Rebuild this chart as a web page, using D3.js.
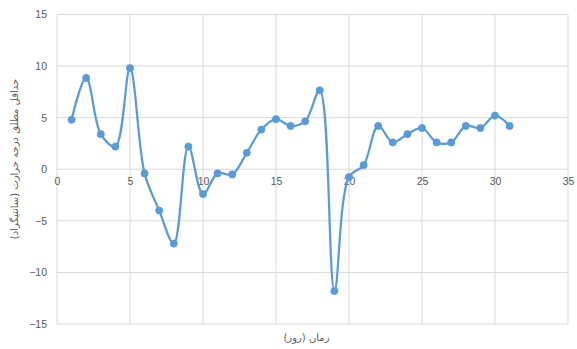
<!DOCTYPE html>
<html>
<head>
<meta charset="utf-8">
<script src="https://cdn.jsdelivr.net/npm/d3@7"></script>
<style>
  html, body { margin: 0; padding: 0; background: #fff; }
  svg { display: block; }
</style>
</head>
<body>
<svg id="chart" width="577" height="349"></svg>
<script>
// Daily absolute minimum temperature (°C)
const days = [1,2,3,4,5,6,7,8,9,10,11,12,13,14,15,16,17,18,19,20,21,22,23,24,25,26,27,28,29,30,31];
const minTemps = [4.8,8.85,3.4,2.2,9.8,-0.4,-4.0,-7.2,2.2,-2.4,-0.4,-0.5,1.6,3.85,4.85,4.2,4.65,7.65,-11.8,-0.75,0.4,4.2,2.6,3.4,4.0,2.6,2.6,4.2,4.0,5.2,4.2];
const xTicks = [0,5,10,15,20,25,30,35];
const yTicks = [-15,-10,-5,0,5,10,15];
const xTitle = "زمان (روز)";
const yTitle = "حداقل مطلق درجه حرارت (سانتیگراد)";

const svg = d3.select("#chart");
const margin = { left: 57, right: 9, top: 14.5, bottom: 25 };
const W = 577, H = 349;

const x = d3.scaleLinear().domain([0, 35]).range([margin.left, W - margin.right]);
const y = d3.scaleLinear().domain([-15, 15]).range([H - margin.bottom, margin.top]);

const gridColor = "#d9d9d9";
const textColor = "#595959";
const font = "'Liberation Sans', Arial, sans-serif";

// gridlines
svg.append("g")
  .selectAll("line.h")
  .data(yTicks)
  .join("line")
  .attr("x1", x(0)).attr("x2", x(35))
  .attr("y1", d => y(d)).attr("y2", d => y(d))
  .attr("stroke", gridColor).attr("stroke-width", 1);

svg.append("g")
  .selectAll("line.v")
  .data(xTicks)
  .join("line")
  .attr("x1", d => x(d)).attr("x2", d => x(d))
  .attr("y1", y(15)).attr("y2", y(-15))
  .attr("stroke", gridColor).attr("stroke-width", 1);

// y axis labels
const yAxis = d3.axisLeft(y).tickValues(yTicks).tickSize(0).tickPadding(10);
svg.append("g")
  .attr("transform", `translate(${x(0)},0)`)
  .call(yAxis)
  .call(g => g.select(".domain").remove())
  .call(g => g.selectAll("text")
    .attr("fill", textColor)
    .style("font-family", font)
    .style("font-size", "10.5px"));

// x axis labels sit on the zero line
const xAxis = d3.axisBottom(x).tickValues(xTicks).tickSize(0).tickPadding(8);
svg.append("g")
  .attr("transform", `translate(0,${y(0)})`)
  .call(xAxis)
  .call(g => g.select(".domain").remove())
  .call(g => g.selectAll("text")
    .attr("fill", textColor)
    .style("font-family", font)
    .style("font-size", "10.5px"));

// smoothed series line
const data = days.map((d, i) => ({ day: d, t: minTemps[i] }));
const line = d3.line()
  .x(d => x(d.day))
  .y(d => y(d.t))
  .curve(d3.curveCatmullRom.alpha(0.5));

svg.append("path")
  .datum(data)
  .attr("d", line)
  .attr("fill", "none")
  .attr("stroke", "#5b9bd5")
  .attr("stroke-width", 2.25)
  .attr("stroke-linejoin", "round");

svg.append("g")
  .selectAll("circle")
  .data(data)
  .join("circle")
  .attr("cx", d => x(d.day))
  .attr("cy", d => y(d.t))
  .attr("r", 3.6)
  .attr("fill", "#5b9bd5")
  .attr("stroke", "#5b9bd5")
  .attr("stroke-width", 0.75);

// axis titles
svg.append("text")
  .attr("x", (x(0) + x(35)) / 2 - 6)
  .attr("y", 341)
  .attr("text-anchor", "middle")
  .attr("direction", "rtl")
  .attr("fill", textColor)
  .style("font-family", "'DejaVu Sans', 'Noto Sans', sans-serif")
  .style("font-size", "10px")
  .text(xTitle);

svg.append("text")
  .attr("transform", `translate(18,159) rotate(-90)`)
  .attr("text-anchor", "middle")
  .attr("direction", "rtl")
  .attr("fill", textColor)
  .style("font-family", "'DejaVu Sans', 'Noto Sans', sans-serif")
  .style("font-size", "10px")
  .text(yTitle);
</script>
</body>
</html>
